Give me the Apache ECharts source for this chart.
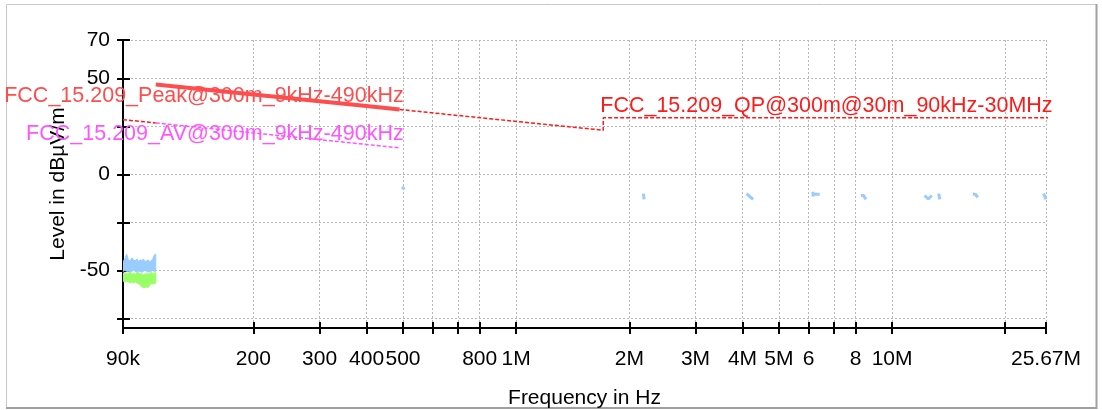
<!DOCTYPE html>
<html><head><meta charset="utf-8">
<script src="https://cdn.jsdelivr.net/npm/echarts@6/dist/echarts.min.js"></script>
<style>html,body{margin:0;padding:0;background:#fff}#c{width:1102px;height:410px}</style>
</head><body><div id="c"></div><script>
// ---- axis ticks / labels ----
const xTickValues = [90000,200000,300000,400000,500000,600000,700000,800000,1000000,2000000,3000000,4000000,5000000,6000000,7000000,8000000,10000000,20000000,25670000];
const xLabelValues = [90000,200000,300000,400000,500000,800000,1000000,2000000,3000000,4000000,5000000,6000000,8000000,10000000,25670000];
const xLabelTexts  = ['90k','200','300','400','500','800','1M','2M','3M','4M','5M','6','8','10M','25.67M'];
const yTickValues = [70,50,25,0,-25,-50,-75];
const yLabelValues = [70,50,0,-50];

// ---- limit lines (frequency Hz, level dBuV/m) ----
const peakFreq = [110000,200000,300000,400000,490000];
const peakLevel = [46.8,41.6,38.1,35.6,33.8];
const avFreq = [110000,200000,300000,400000,490000];
const avLevel = [26.8,21.6,18.1,15.6,13.8];
const qpLowFreq = [90000,110000];
const qpLowLevel = [28.5,26.8];
const qpFreq = [490000,1000000,1705000,1705000,30000000];
const qpLevel = [33.8,27.6,23.0,29.5,29.5];

// ---- measured traces 90k-110k (upper / lower envelopes) ----
const measFreq = [90000,91000,92000,93000,94000,95000,96000,97000,98000,99000,100000,101000,102000,103000,104000,105000,106000,107000,108000,109000,110000];
const blueHi = [-45.5,-44,-41.5,-44.5,-45,-43.5,-44.5,-45,-44,-45.5,-44.5,-45,-44,-45.5,-45,-44.5,-45.5,-45,-44,-42,-41.5];
const blueLo = [-50.5,-50,-50.5,-50.5,-51,-50.5,-50,-50.5,-51,-50.5,-50.5,-51,-50.5,-50,-50.5,-51,-50.5,-50.5,-50,-50.5,-50.5];
const greenHi = [-51.5,-51,-52,-51.5,-51,-52,-51.5,-52,-51.5,-51,-52,-51.5,-52.5,-52,-51.5,-52,-51.5,-51,-52,-51.5,-51];
const greenLo = [-55.5,-56,-55.5,-56,-56.5,-56,-56.5,-56,-56.5,-57,-57.5,-58.5,-59,-59,-58.5,-59,-57.5,-57,-57,-57,-56.5];

// ---- other measured fragments ----
const fragFreq = [
  [497000,505000],
  [2180000,2190000],
  [4100000,4180000,4270000],
  [6160000,6160000,6160000,6420000],
  [8260000,8400000,8520000],
  [12200000,12480000,12760000],
  [13300000,13400000],
  [16400000,16700000,16900000],
  [25300000,25670000]
];
const fragLevel = [
  [-6.5,-7.8],
  [-10,-13],
  [-10,-11.5,-13],
  [-9,-11.5,-10.4,-10.4],
  [-11,-11,-13],
  [-11,-12.8,-11],
  [-10,-13],
  [-10.2,-10.5,-12],
  [-10,-13]
];

const FONT = 'Liberation Sans, Arial, sans-serif';
const zip = (a, b) => a.map((v, i) => [v, b[i]]);

const chart = echarts.init(document.getElementById('c'), null, {renderer: 'canvas'});

const gridLine = {show: true, lineStyle: {color: '#b8b8b8', width: 1, type: [2, 2]}};

function xLabel(v) {
  for (let i = 0; i < xLabelValues.length; i++) {
    if (Math.abs(Math.log(v / xLabelValues[i])) < 1e-6) return xLabelTexts[i];
  }
  return '';
}

function bandSeries(freq, hi, lo, color, z) {
  return {
    type: 'custom', coordinateSystem: 'cartesian2d', z: z, silent: true, clip: true,
    data: zip(freq, hi),
    renderItem: function (params, api) {
      if (params.dataIndex !== 0) return null;
      const pts = [];
      for (let i = 0; i < freq.length; i++) pts.push(api.coord([freq[i], hi[i]]));
      for (let i = freq.length - 1; i >= 0; i--) pts.push(api.coord([freq[i], lo[i]]));
      return {type: 'polygon', shape: {points: pts}, style: {fill: color, stroke: color, lineWidth: 1}};
    }
  };
}

function labelPoint(coord, text, position, offset, color) {
  return {
    symbol: 'circle', symbolSize: 0, silent: true,
    itemStyle: {color: 'rgba(0,0,0,0)'},
    data: [{coord: coord}],
    label: {show: true, formatter: text, position: position, distance: 0, offset: offset,
      color: color, fontFamily: FONT, fontSize: 21.5}
  };
}

const series = [
  bandSeries(measFreq, blueHi, blueLo, '#99ccff', 3),
  bandSeries(measFreq, greenHi, greenLo, '#99ff66', 4),
  {type: 'line', data: zip(qpLowFreq, qpLowLevel), symbol: 'none', lineStyle: {color: '#ff1a1a', width: 1.5, type: [4, 2]}, z: 5},
  {type: 'line', data: zip(avFreq, avLevel), symbol: 'none', lineStyle: {color: '#ff55ff', width: 1.5, type: [4, 2]}, z: 5,
   markPoint: labelPoint([avFreq[avFreq.length - 1], avLevel[avLevel.length - 1]], 'FCC_15.209_AV@300m_9kHz-490kHz', 'left', [4, -14], '#ff55ff')},
  {type: 'line', data: zip(qpFreq, qpLevel), symbol: 'none', lineStyle: {color: '#ff1a1a', width: 1.5, type: [4, 2]}, z: 5,
   markPoint: labelPoint([qpFreq[3], qpLevel[3]], 'FCC_15.209_QP@300m@30m_90kHz-30MHz', 'right', [-3, -12], '#ff1a1a')},
  {type: 'line', data: zip(peakFreq, peakLevel), symbol: 'none', lineStyle: {color: '#ff4d4d', width: 4}, z: 6,
   markPoint: labelPoint([peakFreq[peakFreq.length - 1], peakLevel[peakLevel.length - 1]], 'FCC_15.209_Peak@300m_9kHz-490kHz', 'left', [4, -13], '#ff4d4d')}
];
fragFreq.forEach((f, i) => {
  series.push({type: 'line', data: zip(f, fragLevel[i]), symbol: 'none', lineStyle: {color: '#99ccff', width: 3}, z: 3});
});

const option = {
  animation: false,
  backgroundColor: '#ffffff',
  grid: {left: 123, right: 56, top: 40, bottom: 82, containLabel: false, outerBoundsMode: 'none'},
  xAxis: [
    {type: 'log', logBase: 10, min: 90000, max: 25670000, position: 'bottom',
     name: 'Frequency in Hz', nameLocation: 'middle', nameGap: 60,
     nameTextStyle: {fontFamily: FONT, fontSize: 21, color: '#000'},
     axisLine: {show: true, onZero: false, lineStyle: {color: '#000', width: 2}},
     axisTick: {show: true, inside: false, length: 6, customValues: xTickValues, lineStyle: {color: '#000', width: 2}},
     axisLabel: {show: true, customValues: xLabelValues, formatter: xLabel, margin: 21, hideOverlap: false,
       fontFamily: FONT, fontSize: 21, color: '#000'},
     splitLine: gridLine, minorTick: {show: false}, minorSplitLine: {show: false}},
    {type: 'log', logBase: 10, min: 90000, max: 25670000, position: 'bottom',
     axisLine: {show: false, onZero: false},
     axisTick: {show: true, inside: true, length: 6, customValues: xTickValues, lineStyle: {color: '#000', width: 2}},
     axisLabel: {show: false}, splitLine: {show: false}}
  ],
  yAxis: [
    {type: 'value', min: -80, max: 70, position: 'left',
     name: 'Level in dBµV/m', nameLocation: 'middle', nameGap: 52, nameRotate: 90,
     nameTextStyle: {fontFamily: FONT, fontSize: 21, color: '#000'},
     axisLine: {show: true, onZero: false, lineStyle: {color: '#000', width: 2}},
     axisTick: {show: true, inside: false, length: 6, customValues: yTickValues, lineStyle: {color: '#000', width: 2}},
     axisLabel: {show: true, customValues: yLabelValues, margin: 13, fontFamily: FONT, fontSize: 21, color: '#000'},
     splitLine: gridLine},
    {type: 'value', min: -80, max: 70, position: 'left',
     axisLine: {show: false, onZero: false},
     axisTick: {show: true, inside: true, length: 7, customValues: yTickValues, lineStyle: {color: '#000', width: 2}},
     axisLabel: {show: false}, splitLine: {show: false}}
  ],
  graphic: [
    {type: 'polyline', silent: true, shape: {points: [[6.5, 407], [6.5, 4.5], [1096, 4.5]]}, style: {stroke: '#c8c8c8', lineWidth: 1, fill: null}},
    {type: 'polyline', silent: true, shape: {points: [[6, 408], [1096.5, 408], [1096.5, 4]]}, style: {stroke: '#a0a0a0', lineWidth: 2, fill: null}}
  ],
  series: series
};
chart.setOption(option);
</script></body></html>
